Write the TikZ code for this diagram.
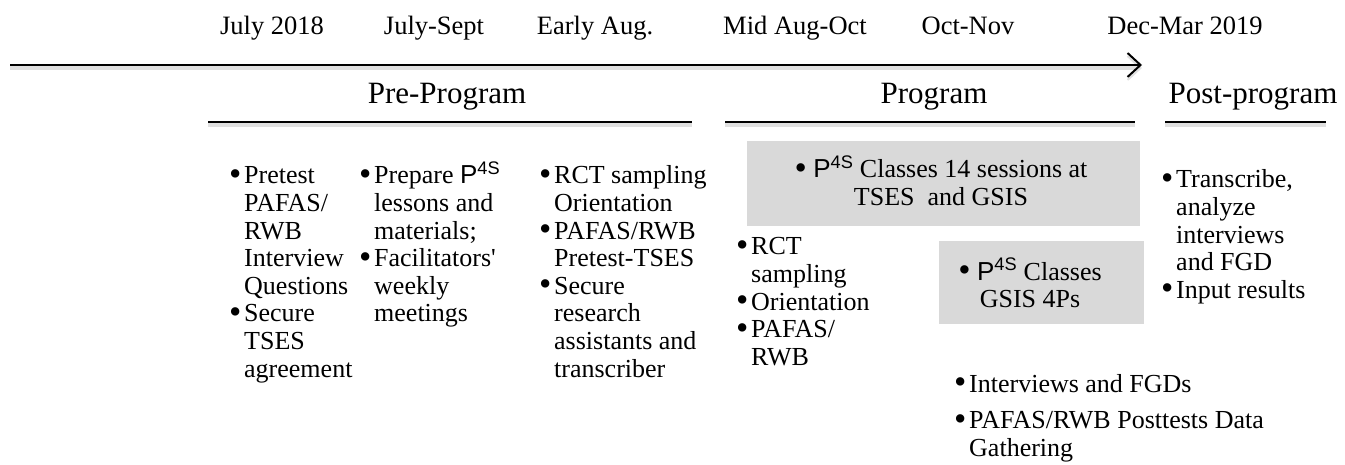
\documentclass[tikz,border=0pt]{standalone}
\usepackage{fontspec}
\setmainfont{Liberation Serif}
\setsansfont{Liberation Sans}
\usetikzlibrary{arrows.meta}

% bullet with hanging indent
\newcommand\bigbul{\raisebox{-1.6pt}{\scalebox{1.35}{\textbullet}}}
\newcommand\bul{\makebox[15pt][l]{\bigbul}}
\newcommand\ind{\hspace*{15pt}}
\newcommand\pfs{{\sffamily P\textsuperscript{4S}}}

\tikzset{
  lbl/.style={inner sep=0pt, anchor=base, font=\fontsize{26.5}{30}\selectfont},
  phase/.style={inner sep=0pt, anchor=base, font=\fontsize{31}{36}\selectfont},
  body/.style={inner sep=0pt, anchor=base west, font=\fontsize{26}{27.6}\selectfont},
  bodyc/.style={inner sep=0pt, anchor=base, font=\fontsize{26}{27.6}\selectfont},
  graybox/.style={fill=black!15, draw=none, inner sep=0pt, anchor=north west},
  shadowed/.style={preaction={draw=black!12, line width=4pt, transform canvas={yshift=-3pt}}},
  rule/.style={line width=2pt, shadowed},
}

\begin{document}
\begin{tikzpicture}[x=1pt,y=-1pt]
\useasboundingbox (0,0) rectangle (1345,465);

% timeline labels
\node[lbl] (t1) at (272,35) {July 2018};
\node[lbl] (t2) at (434,35) {July-Sept};
\node[lbl] (t3) at (595,35) {Early Aug.};
\node[lbl] (t4) at (795,35) {Mid Aug-Oct};
\node[lbl] (t5) at (968,35) {Oct-Nov};
\node[lbl] (t6) at (1185,35) {Dec-Mar 2019};

% time arrow
\coordinate (arrL) at (10,65);
\coordinate (arrR) at (1142,65);
\draw[line width=2.2pt, shadowed, -{Straight Barb[length=13pt,width=24pt,line width=2pt]}] (arrL) -- (arrR);

% phase headings and their rules
\node[phase] (pre) at (447,104) {Pre-Program};
\node[phase] (prog) at (934,104) {Program};
\node[phase] (post) at (1253,104) {Post-program};
\coordinate (preA) at (208,122);  \coordinate (preB) at (692,122);
\coordinate (progA) at (725,122); \coordinate (progB) at (1135,122);
\coordinate (postA) at (1165,122);\coordinate (postB) at (1326,122);
\draw[rule] (preA) -- (preB);
\draw[rule] (progA) -- (progB);
\draw[rule] (postA) -- (postB);

% shaded boxes of the program phase
\node[graybox, minimum width=393pt, minimum height=85pt] (box1) at (747,141) {};
\node[graybox, minimum width=205pt, minimum height=83pt] (box2) at (939,241) {};

% pre-program columns
\node[body] (c1) at (229,184) {\begin{tabular}[t]{@{}l@{}}
\bul Pretest\\ \ind PAFAS/\\ \ind RWB\\ \ind Interview\\ \ind Questions\\
\bul Secure\\ \ind TSES\\ \ind agreement\end{tabular}};
\node[body] (c2) at (359,184) {\begin{tabular}[t]{@{}l@{}}
\bul Prepare \pfs\\ \ind lessons and\\ \ind materials;\\
\bul Facilitators\textquotesingle\\ \ind weekly\\ \ind meetings\end{tabular}};
\node[body] (c3) at (539,184) {\begin{tabular}[t]{@{}l@{}}
\bul RCT sampling\\ \ind Orientation\\
\bul PAFAS/RWB\\ \ind Pretest-TSES\\
\bul Secure\\ \ind research\\ \ind assistants and\\ \ind transcriber\end{tabular}};

% program phase
\node[bodyc] (b1) at (941,178) {\begin{tabular}[t]{@{}c@{}}
\bigbul\ \pfs\ Classes 14 sessions at\\ TSES\ \ and GSIS\end{tabular}};
\node[bodyc] (b2) at (1030,280) {\begin{tabular}[t]{@{}c@{}}
\bigbul\ \pfs\ Classes\\ GSIS 4Ps\end{tabular}};
\node[body] (c4) at (736,255) {\begin{tabular}[t]{@{}l@{}}
\bul RCT\\ \ind sampling\\ \bul Orientation\\ \bul PAFAS/\\ \ind RWB\end{tabular}};
\node[body] (c5) at (954,392) {\begin{tabular}[t]{@{}l@{}}
\bul Interviews and FGDs\\[9pt]
\bul PAFAS/RWB Posttests Data\\ \ind Gathering\end{tabular}};

% post-program
\node[body] (c6) at (1161,188) {\begin{tabular}[t]{@{}l@{}}
\bul Transcribe,\\ \ind analyze\\ \ind interviews\\ \ind and FGD\\
\bul Input results\end{tabular}};
\end{tikzpicture}
\end{document}
